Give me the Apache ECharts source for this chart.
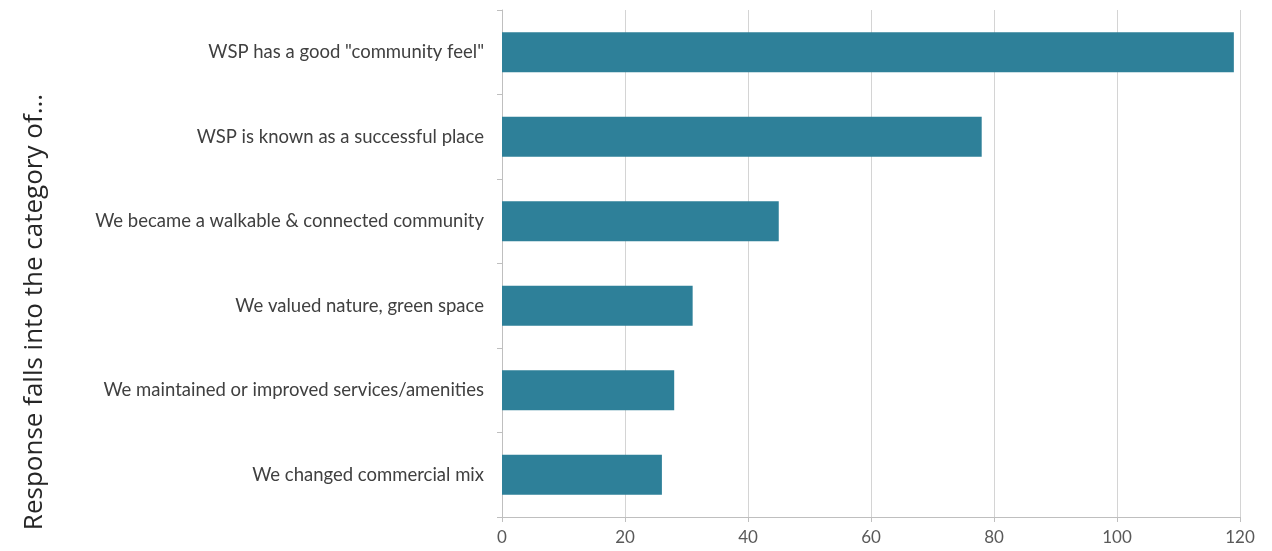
<!DOCTYPE html>
<html><head><meta charset="utf-8">
<script src="https://cdn.jsdelivr.net/npm/echarts@6/dist/echarts.min.js"></script>
<style>html,body{margin:0;padding:0;background:#fff}#c{width:1272px;height:551px}</style>
</head><body><div id="c"></div>
<script>
const categories = [
  'WSP has a good "community feel"',
  'WSP is known as a successful place',
  'We became a walkable & connected community',
  'We valued nature, green space',
  'We maintained or improved services/amenities',
  'We changed commercial mix'
];
const values = [119, 78, 45, 31, 28, 26];
const axisTitle = 'Response falls into the category of...';

const chart = echarts.init(document.getElementById('c'));
chart.setOption({
  animation: false,
  grid: {left: 502, right: 32, top: 10, bottom: 34},
  xAxis: {
    type: 'value', min: 0, max: 120, interval: 20,
    axisLine: {show: true, lineStyle: {color: '#bfbfbf', width: 1}},
    axisTick: {show: true, length: 5, lineStyle: {color: '#bfbfbf'}},
    splitLine: {show: true, lineStyle: {color: '#d4d4d4', width: 1}},
    axisLabel: {color: '#595959', fontFamily: 'Lato', fontSize: 17, margin: 12}
  },
  yAxis: {
    type: 'category', data: categories, inverse: true,
    axisLine: {show: true, lineStyle: {color: '#bfbfbf', width: 1}},
    axisTick: {show: true, length: 5, lineStyle: {color: '#bfbfbf'}},
    axisLabel: {color: '#404040', fontFamily: 'Lato', fontSize: 18.5, margin: 18}
  },
  series: [{
    type: 'bar', data: values, barWidth: 40,
    itemStyle: {color: '#2e8099'}
  }],
  graphic: [{
    type: 'text', x: 35, y: 312, rotation: Math.PI / 2,
    style: {text: axisTitle, fill: '#262626', fontFamily: 'Open Sans', fontSize: 26,
      align: 'center', verticalAlign: 'middle'}
  }]
});
</script></body></html>
